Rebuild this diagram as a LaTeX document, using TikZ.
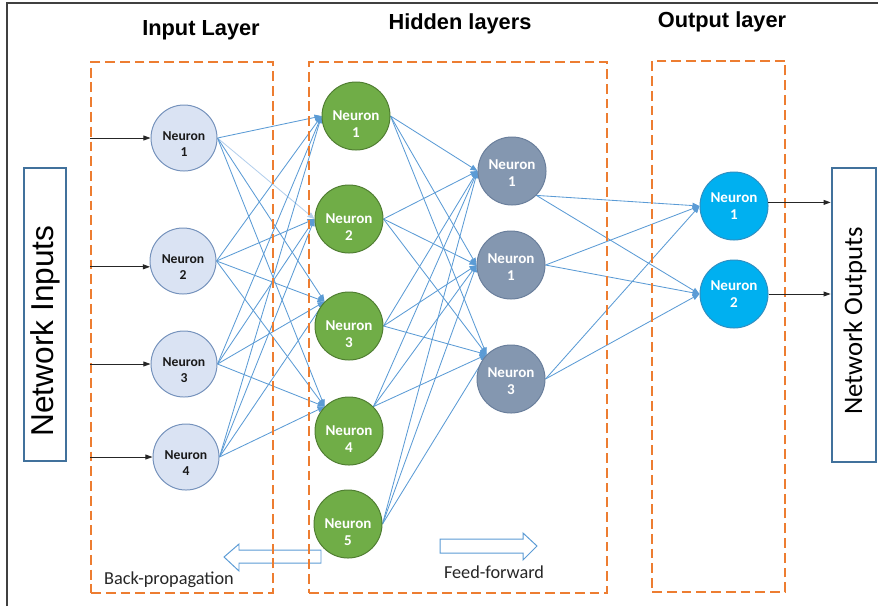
\documentclass[tikz,border=0pt]{standalone}
\usepackage{fontspec}
\newfontfamily\arialfont{Liberation Sans}
\newfontfamily\calfont{Carlito}
\usetikzlibrary{arrows.meta,fit,backgrounds,positioning}
\definecolor{layerorange}{HTML}{ED7D31}
\definecolor{linkblue}{HTML}{5B9BD5}
\definecolor{linklight}{HTML}{B4CFEC}
\definecolor{ioblue}{HTML}{41719C}
\definecolor{inblue}{HTML}{DAE3F3}
\definecolor{inborder}{HTML}{7592BC}
\definecolor{hidgreen}{HTML}{70AD47}
\definecolor{hidborder}{HTML}{507E32}
\definecolor{deepgray}{HTML}{8497B0}
\definecolor{deepborder}{HTML}{6A7F9C}
\definecolor{outcyan}{HTML}{00B0F0}
\definecolor{outborder}{HTML}{2F8FC2}
\newcommand{\nrn}[1]{\begin{tabular}{@{}c@{}}Neuron\\#1\end{tabular}}
\tikzset{
  neuron/.style     = {circle, inner sep=0pt, text depth=0pt, line width=0.7pt},
  inneuron/.style   = {neuron, fill=inblue, draw=inborder, minimum size=1.65cm,
                       text=black!90, text height=15.4pt,
                       font=\calfont\bfseries\fontsize{9.7}{11.4}\selectfont},
  hidneuron/.style  = {neuron, fill=hidgreen, draw=hidborder, minimum size=1.7cm,
                       text=white, text height=19pt,
                       font=\calfont\bfseries\fontsize{10.7}{12}\selectfont},
  deepneuron/.style = {neuron, fill=deepgray, draw=deepborder, minimum size=1.7cm,
                       text=white, text height=11.2pt,
                       font=\calfont\bfseries\fontsize{10.7}{12}\selectfont},
  outneuron/.style  = {neuron, fill=outcyan, draw=outborder, minimum size=1.7cm,
                       text=white, text height=7.6pt,
                       font=\calfont\bfseries\fontsize{10.7}{12}\selectfont},
  layerbox/.style   = {draw=layerorange, dash pattern=on 7pt off 3.5pt,
                       line width=1.3pt, inner sep=0pt},
  iobox/.style      = {draw=ioblue, line width=2pt, inner sep=0pt},
  conn/.style       = {draw=linkblue, line width=0.6pt,
                       -{Triangle[length=5pt,width=4pt]}},
  inarrow/.style    = {-{Triangle[length=5pt,width=3.5pt]}, line width=0.6pt, black!85},
  blockarrow/.style = {draw=linkblue, line width=0.7pt, fill=white},
  caption/.style    = {font=\calfont\fontsize{13}{15}\selectfont, text=black!85},
  layertitle/.style = {font=\arialfont\bfseries\fontsize{15.5}{18}\selectfont},
}

\begin{document}
\begin{tikzpicture}[x=0.025cm, y=-0.025cm]
  \useasboundingbox (0,0) rectangle (878,606);
  \draw[black!75, line width=1.2pt] (7,606) -- (7,3) -- (878,3);

  % titles
  \node[layertitle] (intitle)  at (201,30) {Input Layer};
  \node[layertitle] (hidtitle) at (460,24) {Hidden layers};
  \node[layertitle] (outtitle) at (722,22) {Output layer};

  % input / output boxes
  \node[iobox, fit={(24,168) (66,461)}] (inbox) {};
  \node[iobox, fit={(832,168) (876,462)}] (outbox) {};
  \node[rotate=90, font=\arialfont\fontsize{22.5}{26}\selectfont] (intext) at (45,331) {Network Inputs};
  \node[rotate=90, font=\calfont\fontsize{19}{22}\selectfont] (outtext) at (855,321) {Network Outputs};

  % neurons
  \node[inneuron] (in1) at (184,138) {\nrn{1}};
  \node[inneuron] (in2) at (183,261) {\nrn{2}};
  \node[inneuron] (in3) at (184,364) {\nrn{3}};
  \node[inneuron] (in4) at (186,457) {\nrn{4}};

  \node[hidneuron] (h1) at (356,116) {\nrn{1}};
  \node[hidneuron] (h2) at (349,219) {\nrn{2}};
  \node[hidneuron] (h3) at (349,326) {\nrn{3}};
  \node[hidneuron] (h4) at (349,431) {\nrn{4}};
  \node[hidneuron] (h5) at (348,524) {\nrn{5}};

  \node[deepneuron] (hh1) at (512,171) {\nrn{1}};
  \node[deepneuron] (hh2) at (511,265) {\nrn{1}};
  \node[deepneuron] (hh3) at (511,379) {\nrn{3}};

  \node[outneuron] (out1) at (734,206) {\nrn{1}};
  \node[outneuron] (out2) at (734,294) {\nrn{2}};

  \begin{pgfonlayer}{background}
    % back-propagation / feed-forward arrows
    \draw[blockarrow] (224,557) -- (239,544) -- (239,550) -- (321,550)
      -- (321,563) -- (239,563) -- (239,571) -- cycle;
    \draw[blockarrow] (537,546) -- (523,533) -- (523,539) -- (440,539)
      -- (440,553) -- (523,553) -- (523,560) -- cycle;

    % weights
    \draw[conn] (in1.east) -- (h1.west);
    \draw[conn, draw=linklight] (in1.east) -- (h2.west);
    \draw[conn] (in1.east) -- (h3.north west);
    \draw[conn] (in1.east) -- (h4.north west);
    \foreach \s in {in2,in3,in4}
      \foreach \t/\a in {h1/west,h2/west,h3/north west,h4/north west}
        \draw[conn] (\s.east) -- (\t.\a);
    \foreach \s/\b in {h1/east,h2/east,h3/east,h4/north east,h5/east}
      \foreach \t/\a in {hh1/west,hh2/west,hh3/north west}
        \draw[conn] (\s.\b) -- (\t.\a);
    \foreach \s/\b in {hh1/south east,hh2/east,hh3/east}
      \foreach \t in {out1,out2}
        \draw[conn] (\s.\b) -- (\t.west);

    % layer frames
    \node[layerbox, fit={(91,62) (273,593)}] (inlayer) {};
    \node[layerbox, fit={(309,62) (607,593)}] (hidlayer) {};
    \node[layerbox, fit={(652,61) (785,592)}] (outlayer) {};
  \end{pgfonlayer}

  % inputs and outputs
  \draw[inarrow] (in1.west -| inlayer.west) -- (in1.west);
  \draw[inarrow] (in2.190 -| inlayer.west) -- (in2.190);
  \draw[inarrow] (in3.west -| inlayer.west) -- (in3.west);
  \draw[inarrow] (in4.west -| inlayer.west) -- (in4.west);
  \draw[inarrow] (out1.6) -- (out1.6 -| outbox.west);
  \draw[inarrow] (out2.east) -- (out2.east -| outbox.west);

  \node[caption] (backlabel) at (169,580) {Back-propagation};
  \node[caption] (feedlabel) at (494,572) {Feed-forward};
\end{tikzpicture}
\end{document}
